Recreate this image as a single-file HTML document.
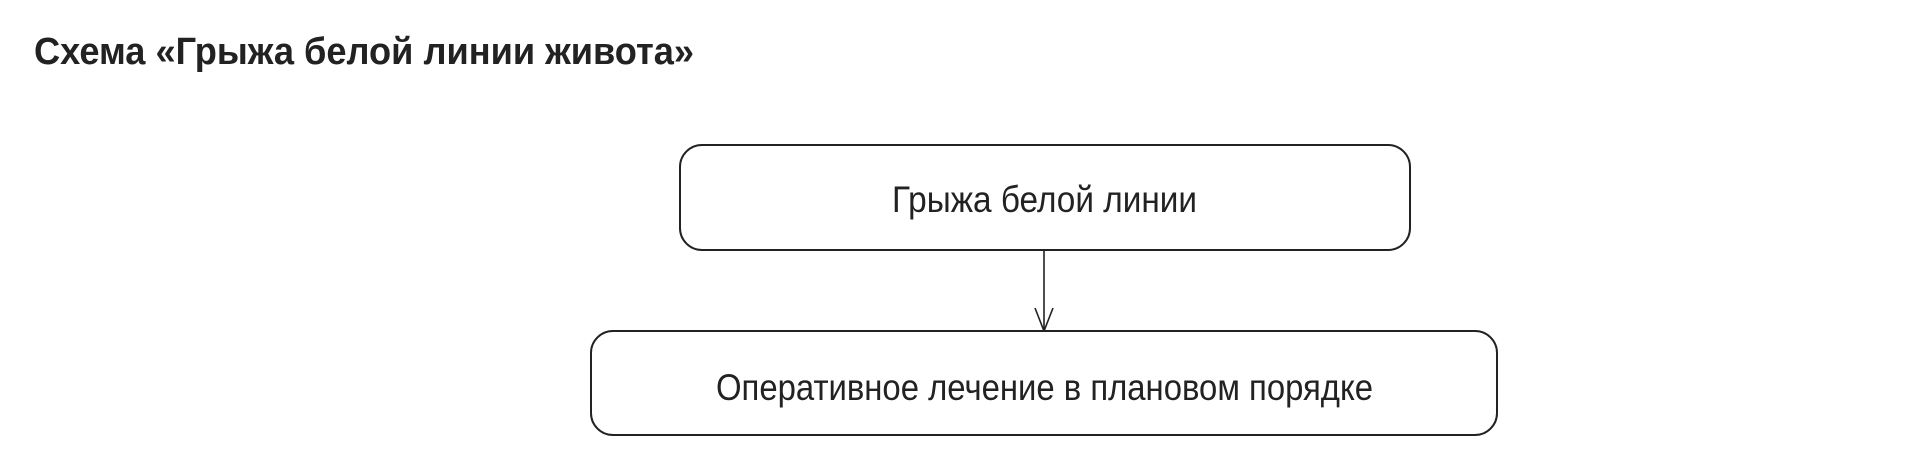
<!DOCTYPE html>
<html><head><meta charset="utf-8"><style>
html,body{margin:0;padding:0;background:#fff;width:1908px;height:476px;overflow:hidden}
</style></head><body>
<svg width="1908" height="476" viewBox="0 0 1908 476" xmlns="http://www.w3.org/2000/svg">
<text x="34" y="64" font-family="Liberation Sans Narrow, Liberation Sans, sans-serif" font-weight="bold" font-size="38" fill="#222" textLength="660" lengthAdjust="spacingAndGlyphs">Схема «Грыжа белой линии живота»</text>
<rect x="680" y="145" width="730" height="105" rx="22" fill="#fff" stroke="#222" stroke-width="2"/>
<text x="892" y="212" font-family="Liberation Sans Narrow, Liberation Sans, sans-serif" font-size="37" fill="#222" textLength="305" lengthAdjust="spacingAndGlyphs">Грыжа белой линии</text>
<line x1="1044" y1="250" x2="1044" y2="330" stroke="#222" stroke-width="1.6"/>
<polyline points="1035,308 1044,331 1053,308" fill="none" stroke="#222" stroke-width="1.6"/>
<rect x="591" y="331" width="906" height="104" rx="22" fill="#fff" stroke="#222" stroke-width="2"/>
<text x="716" y="400" font-family="Liberation Sans Narrow, Liberation Sans, sans-serif" font-size="37" fill="#222" textLength="657" lengthAdjust="spacingAndGlyphs">Оперативное лечение в плановом порядке</text>
</svg>
</body></html>
